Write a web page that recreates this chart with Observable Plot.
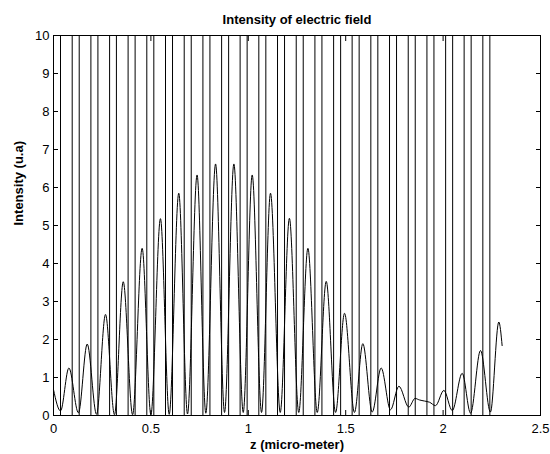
<!DOCTYPE html>
<html><head><meta charset="utf-8">
<script src="https://cdn.jsdelivr.net/npm/d3@7"></script>
<script src="https://cdn.jsdelivr.net/npm/@observablehq/plot@0.6"></script>
<style>
body{margin:0;background:#fff}
#chart svg{font-family:"Liberation Sans",Arial,Helvetica,sans-serif}
</style>
</head><body><div id="chart"></div>
<script>
// layer interfaces (micro-meter)
const layerEdges = [0, 0.036, 0.096, 0.132, 0.192, 0.228, 0.288, 0.323, 0.383, 0.419, 0.479, 0.515,
  0.575, 0.611, 0.671, 0.707, 0.767, 0.803, 0.863, 0.899, 0.958, 0.994, 1.054, 1.090,
  1.150, 1.186, 1.246, 1.282, 1.342, 1.378, 1.438, 1.474, 1.533, 1.569, 1.629, 1.665,
  1.725, 1.761, 1.821, 1.857, 1.917, 1.953, 2.013, 2.049, 2.108, 2.144, 2.204, 2.240];

// intensity curve (extrema)
const zValues = [0, 0.036, 0.079, 0.128, 0.173, 0.221, 0.267, 0.313, 0.358, 0.406, 0.455, 0.500,
  0.549, 0.594, 0.643, 0.688, 0.737, 0.782, 0.832, 0.878, 0.926, 0.974, 1.020, 1.068,
  1.114, 1.164, 1.211, 1.259, 1.306, 1.354, 1.400, 1.448, 1.494, 1.545, 1.588, 1.636,
  1.682, 1.730, 1.773, 1.824, 1.856, 1.878, 1.905, 1.930, 1.961, 2.004, 2.047, 2.098,
  2.141, 2.192, 2.243, 2.286, 2.303];
const intensity = [0.68, 0.12, 1.25, 0.07, 1.88, 0.03, 2.66, 0.02, 3.52, 0.02, 4.40, 0.02,
  5.18, 0.03, 5.85, 0.04, 6.33, 0.06, 6.62, 0.08, 6.62, 0.08, 6.33, 0.08,
  5.85, 0.08, 5.19, 0.08, 4.40, 0.08, 3.53, 0.08, 2.69, 0.08, 1.89, 0.09,
  1.25, 0.15, 0.77, 0.22, 0.45, 0.41, 0.38, 0.35, 0.26, 0.66, 0.13, 1.11,
  0.06, 1.71, 0.09, 2.46, 1.84];

const xTicks = [0, 0.5, 1, 1.5, 2, 2.5];
const yTicks = [0, 1, 2, 3, 4, 5, 6, 7, 8, 9, 10];
const titleText = "Intensity of electric field";
const xLabel = "z (micro-meter)";
const yLabel = "Intensity (u.a)";

const curveData = zValues.map((z, i) => ({z, v: intensity[i]}));

const chart = Plot.plot({
  width: 550, height: 454,
  marginLeft: 53, marginRight: 10, marginTop: 35, marginBottom: 39,
  x: {domain: [0, 2.5]},
  y: {domain: [0, 10]},
  style: {fontSize: "13px", fontFamily: "'Liberation Sans', Arial, sans-serif", background: "white", color: "black", overflow: "visible"},
  marks: [
    Plot.ruleX(layerEdges, {y1: 0, y2: 10, stroke: "#000", strokeWidth: 1}),
    Plot.line(curveData, {x: "z", y: "v", stroke: "#000", strokeWidth: 1, curve: "monotone-x"}),
    Plot.frame({stroke: "#000", strokeWidth: 1}),
    Plot.axisX({ticks: xTicks, tickSize: -5, tickPadding: 13, label: null, tickFormat: d => String(d), fontSize: 13}),
    Plot.axisX({anchor: "top", ticks: xTicks, tickSize: -5, label: null, tickFormat: () => ""}),
    Plot.axisY({ticks: yTicks, tickSize: -5, tickPadding: 9, label: null, tickFormat: d => String(d), fontSize: 13}),
    Plot.axisY({anchor: "right", ticks: yTicks, tickSize: -5, label: null, tickFormat: () => ""}),
    Plot.text([titleText], {text: d => d, frameAnchor: "top", dy: -12, lineAnchor: "bottom", fontWeight: "bold", fontSize: 13}),
    Plot.text([xLabel], {text: d => d, frameAnchor: "bottom", dy: 33, lineAnchor: "bottom", fontWeight: "bold", fontSize: 13}),
    Plot.text([yLabel], {text: d => d, frameAnchor: "left", dx: -35, rotate: -90, lineAnchor: "middle", fontWeight: "bold", fontSize: 13})
  ]
});
document.getElementById("chart").appendChild(chart);
</script>
</body></html>
